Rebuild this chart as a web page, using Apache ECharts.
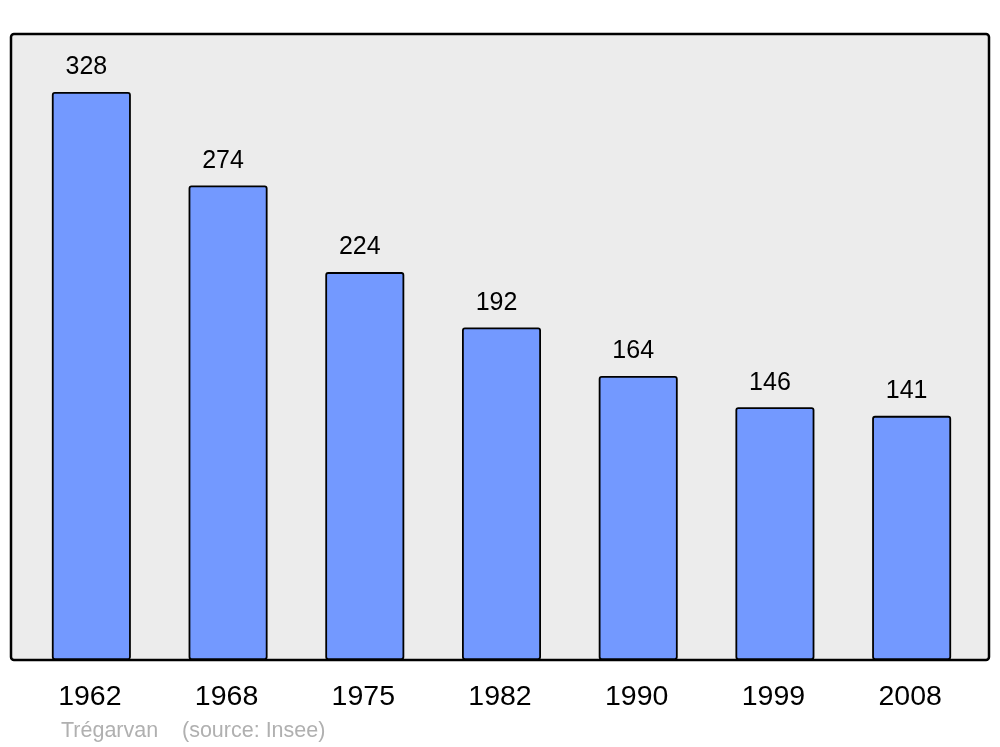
<!DOCTYPE html>
<html>
<head>
<meta charset="utf-8">
<script src="https://cdn.jsdelivr.net/npm/echarts@6/dist/echarts.min.js"></script>
<style>html,body{margin:0;padding:0;background:#fff}#c{width:1000px;height:747px}</style>
</head>
<body>
<div id="c"></div>
<script>
const categories = ['1962','1968','1975','1982','1990','1999','2008'];
const population = [328, 274, 224, 192, 164, 146, 141];
const sourceName = 'Trégarvan';
const sourceNote = '(source: Insee)';

const chart = echarts.init(document.getElementById('c'), null, {renderer: 'canvas'});
const FONT = '"Liberation Sans", Arial, sans-serif';
chart.setOption({
  animation: false,
  backgroundColor: '#ffffff',
  graphic: [
    {type: 'rect', z: -10, shape: {x: 11, y: 34, width: 978, height: 626, r: 3},
     style: {fill: '#ececec', stroke: '#000', lineWidth: 2.5}},
    {type: 'text', left: 61, top: 720, style: {text: sourceName, fill: '#b0b0b0', font: '21.5px ' + FONT}},
    {type: 'text', left: 182, top: 720, style: {text: sourceNote, fill: '#b0b0b0', font: '21.5px ' + FONT}}
  ],
  grid: {left: 23, right: 20, top: 34, bottom: 87},
  xAxis: {
    type: 'category', data: categories,
    axisLine: {show: false}, axisTick: {show: false},
    axisLabel: {color: '#000', fontSize: 28.5, fontFamily: FONT, margin: 23, padding: [0, 3, 0, 0]}
  },
  yAxis: {type: 'value', min: 0, max: 361.5, show: false, splitLine: {show: false}},
  series: [{
    type: 'bar', data: population, barWidth: 79,
    itemStyle: {color: '#7399ff', borderColor: '#000', borderWidth: 1.8, borderRadius: 2},
    label: {show: true, position: 'top', distance: 12, color: '#000', fontSize: 25, fontFamily: FONT, offset: [-5, 0]}
  }]
});
</script>
</body>
</html>
